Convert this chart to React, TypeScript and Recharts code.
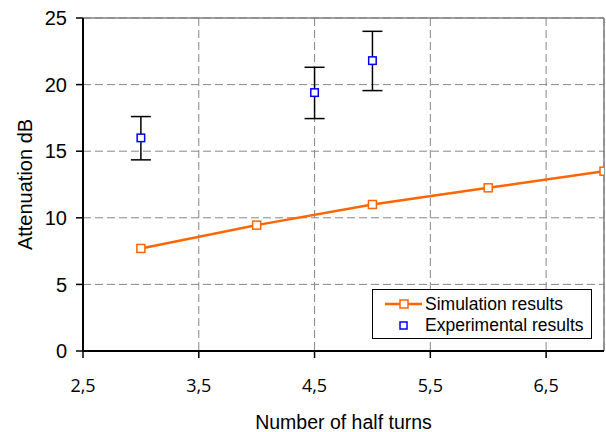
import React from 'react';
import {
  ScatterChart,
  Scatter,
  XAxis,
  YAxis,
  CartesianGrid,
  ErrorBar,
  ReferenceLine,
} from 'recharts';

// simulated attenuation per number of half turns
const simTurns = [3, 4, 5, 6, 7];
const simAtt = [7.7, 9.45, 11.0, 12.25, 13.5];

// measured attenuation with min / max spread
const expTurns = [3, 4.5, 5];
const expAtt = [16.0, 19.4, 21.8];
const expLow = [14.35, 17.45, 19.55];
const expHigh = [17.6, 21.3, 24.0];

const xTicks = [2.5, 3.5, 4.5, 5.5, 6.5];
const yTicks = [0, 5, 10, 15, 20, 25];

const ORANGE = '#ff6600';
const BLUE = '#0000ff';
const FONT = '"Liberation Sans", Arial, sans-serif';

const simData = simTurns.map((x, i) => ({ x, y: simAtt[i] }));
const expData = expTurns.map((x, i) => ({
  x,
  y: expAtt[i],
  err: [expAtt[i] - expLow[i], expHigh[i] - expAtt[i]],
}));

const squareShape = (color: string, size: number) => (props: any) => {
  const { cx, cy } = props;
  if (cx == null || cy == null) return <g />;
  return (
    <rect
      x={cx - size / 2}
      y={cy - size / 2}
      width={size}
      height={size}
      fill="#fff"
      stroke={color}
      strokeWidth={1.5}
    />
  );
};

const LegendBox = () => (
  <div
    style={{
      position: 'absolute',
      left: 372,
      top: 289,
      width: 218,
      height: 48,
      border: '1px solid #000',
      background: '#fff',
      fontFamily: FONT,
      fontSize: 17.5,
      color: '#000',
    }}
  >
    <div style={{ position: 'absolute', left: 0, top: 3, height: 22, display: 'flex', alignItems: 'center' }}>
      <svg width={50} height={20} style={{ marginLeft: 2 }}>
        <line x1={10} y1={10} x2={47} y2={10} stroke={ORANGE} strokeWidth={2.5} />
        <rect x={25} y={6} width={8} height={8} fill="#fff" stroke={ORANGE} strokeWidth={1.5} />
      </svg>
      <span>Simulation results</span>
    </div>
    <div style={{ position: 'absolute', left: 0, top: 24, height: 22, display: 'flex', alignItems: 'center' }}>
      <svg width={50} height={20} style={{ marginLeft: 2 }}>
        <rect x={25} y={7} width={7} height={7} fill="#fff" stroke={BLUE} strokeWidth={1.5} />
      </svg>
      <span>Experimental results</span>
    </div>
  </div>
);

export default function App() {
  return (
    <div
      style={{
        position: 'absolute',
        left: 0,
        top: 0,
        width: 606,
        height: 432,
        background: '#fff',
        overflow: 'hidden',
      }}
    >
      <ScatterChart
        width={606}
        height={432}
        margin={{ top: 18, right: 2, bottom: 0, left: 0 }}
      >
        <CartesianGrid stroke="#888" strokeDasharray="8 4" />
        <XAxis
          type="number"
          dataKey="x"
          domain={[2.5, 7]}
          ticks={xTicks}
          height={81}
          axisLine={{ stroke: '#000', strokeWidth: 2 }}
          tickLine={{ stroke: '#000', strokeWidth: 1.5 }}
          tickSize={7}
          tick={{ fill: '#000', fontSize: 18, fontFamily: '"Open Sans", sans-serif', dy: 19 }}
          tickFormatter={(v: number) => v.toFixed(1).replace('.', ',')}
          allowDataOverflow
          label={{
            value: 'Number of half turns',
            position: 'insideBottom',
            offset: 3,
            fill: '#000',
            fontSize: 19.5,
            fontFamily: FONT,
          }}
        />
        <YAxis
          type="number"
          dataKey="y"
          domain={[0, 25]}
          ticks={yTicks}
          width={83}
          axisLine={{ stroke: '#000', strokeWidth: 2 }}
          tickLine={{ stroke: '#000', strokeWidth: 1.5 }}
          tickSize={7}
          tickMargin={9}
          tick={{ fill: '#000', fontSize: 20, fontFamily: FONT }}
          label={{
            value: 'Attenuation dB',
            angle: -90,
            position: 'insideLeft',
            offset: 25,
            fill: '#000',
            fontSize: 20,
            fontFamily: FONT,
            style: { textAnchor: 'middle' },
          }}
        />
        <ReferenceLine y={25} stroke="#808080" strokeWidth={1.5} />
        <ReferenceLine x={7} stroke="#808080" strokeWidth={1.5} />
        <Scatter
          name="Simulation results"
          data={simData}
          line={{ stroke: ORANGE, strokeWidth: 2.5 }}
          lineType="joint"
          shape={squareShape(ORANGE, 8)}
          isAnimationActive={false}
        />
        <Scatter
          name="Experimental results"
          data={expData}
          shape={squareShape(BLUE, 7.5)}
          isAnimationActive={false}
        >
          <ErrorBar
            dataKey="err"
            direction="y"
            width={10}
            stroke="#000"
            strokeWidth={1.5}
            isAnimationActive={false}
          />
        </Scatter>
      </ScatterChart>
      <LegendBox />
    </div>
  );
}
